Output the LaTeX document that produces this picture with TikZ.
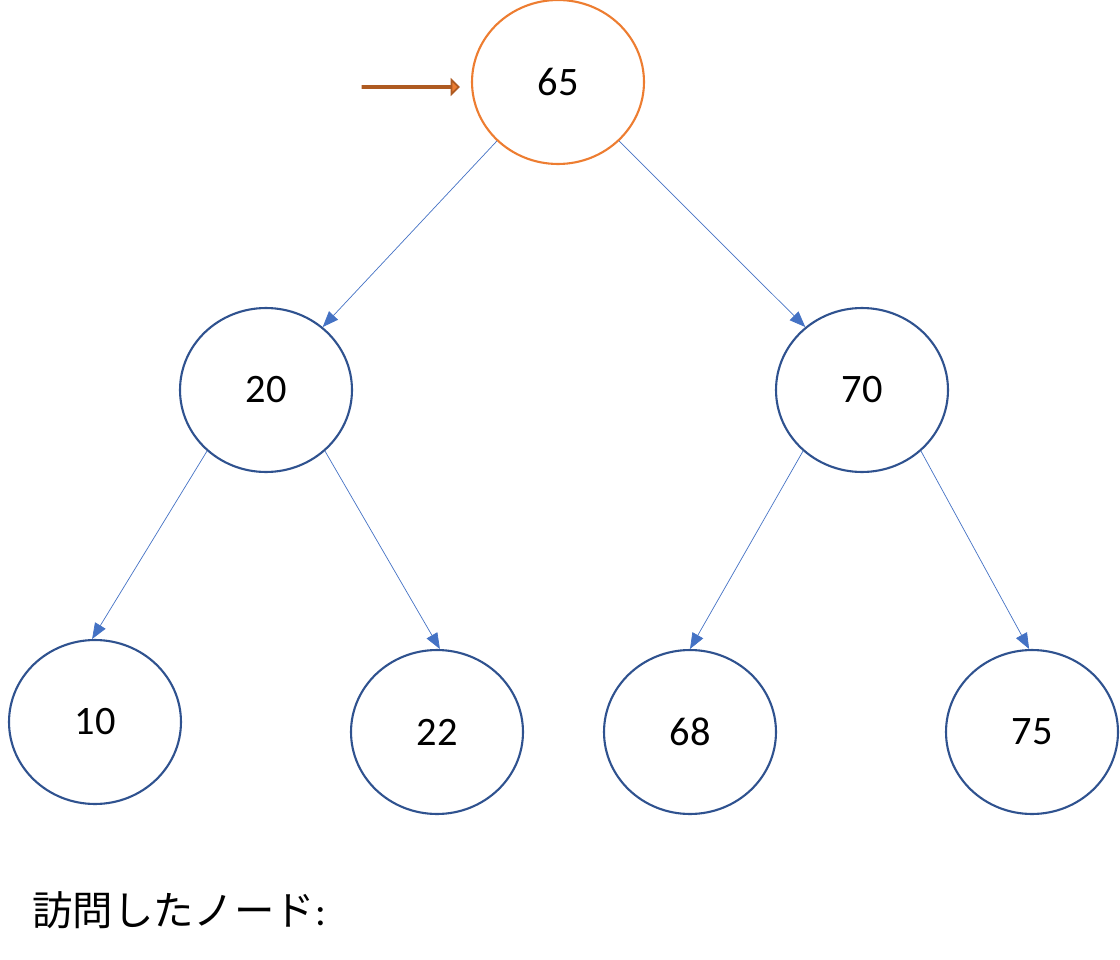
\documentclass[tikz,border=0pt]{standalone}
\usepackage{fontspec}
\setmainfont{Carlito}
\newfontfamily\cjk{Noto Sans CJK JP}
\usetikzlibrary{shapes.geometric,shapes.arrows,arrows.meta}
\definecolor{nodeblue}{RGB}{47,82,143}
\definecolor{edgeblue}{RGB}{68,114,196}
\definecolor{visitorange}{RGB}{237,125,49}
\definecolor{darkorange}{RGB}{174,90,33}

\begin{document}
\begin{tikzpicture}[x=0.02cm,y=-0.02cm,
    treenode/.style={draw=nodeblue,ellipse,line width=1.2pt,minimum width=3.44cm,minimum height=3.28cm,font=\fontsize{23}{27}\selectfont},
    visited/.style={treenode,draw=visitorange},
    link/.style={draw=edgeblue,-{Triangle[length=9pt,width=7pt]}}]
        \useasboundingbox (0,0) rectangle (1120,960);

        \node[visited] (n65) at (558,82){65};
        \node[treenode] (n20) at (266,390){20};
        \node[treenode] (n70) at (862,390){70};
        \node[treenode] (n10) at (95,722){10};
        \node[treenode] (n22) at (437,732){22};
        \node[treenode] (n68) at (690,732){68};
        \node[treenode] (n75) at (1032,732){75};

        \draw[link] (n65.224) -- (n20.48);
        \draw[link] (n65.316) -- (n70.132);
        \draw[link] (n20.226) -- (n10.92);
        \draw[link] (n20.314) -- (n22.88);
        \draw[link] (n70.226) -- (n68.90);
        \draw[link] (n70.314) -- (n75.92);

        % pointer to the current node
        \node[single arrow,draw=darkorange,fill=visitorange,line width=1pt,minimum width=0.28cm,
              single arrow head extend=0.1cm,minimum height=1.92cm,inner sep=0pt] (cursor) at (410,87){};

        \node[anchor=west,font=\fontsize{23}{27}\selectfont] (label) at (26,910){{\cjk 訪問したノード}:};
\end{tikzpicture}
\end{document}
